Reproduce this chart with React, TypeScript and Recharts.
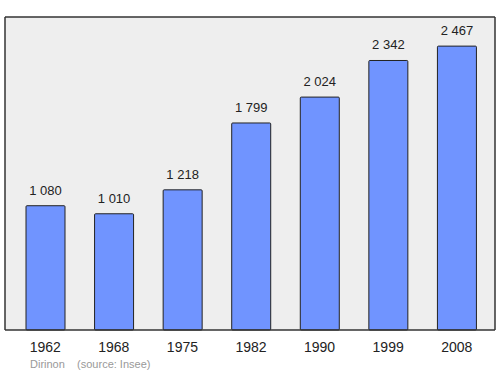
import { Bar, BarChart, CartesianGrid, LabelList, XAxis, YAxis } from "recharts"

const years = ["1962", "1968", "1975", "1982", "1990", "1999", "2008"]
const population = [1080, 1010, 1218, 1799, 2024, 2342, 2467]

const data = years.map((year, i) => ({ year, population: population[i] }))

// French-style thousands separator: "1 080"
const formatPop = (value: number) => String(value).replace(/\B(?=(\d{3})+(?!\d))/g, " ")

const frame = { stroke: "#333", strokeWidth: 1.5 }

export default function App() {
  return (
    <div style={{ position: "absolute", left: 0, top: 0, width: 500, height: 374, background: "#fff", fontFamily: "'Liberation Sans', Arial, sans-serif" }}>
      <BarChart width={500} height={374} data={data} margin={{ top: 16, right: 4, left: 4, bottom: 0 }}>
        <CartesianGrid horizontal={false} vertical={false} fill="#eeeeee" />
        <XAxis
          dataKey="year"
          height={44}
          padding={{ left: 6, right: 4 }}
          tickLine={false}
          axisLine={frame}
          tickMargin={6}
          tick={{ fontSize: 14, fill: "#222" }}
        />
        <XAxis xAxisId="top" dataKey="year" orientation="top" height={1} tick={false} tickLine={false} axisLine={frame} />
        <YAxis domain={[0, 2720]} width={1} tick={false} tickLine={false} axisLine={frame} />
        <YAxis yAxisId="right" orientation="right" width={1} tick={false} tickLine={false} axisLine={frame} />
        <Bar dataKey="population" barSize={39} fill="#7094ff" stroke="#222" strokeWidth={1} radius={1} isAnimationActive={false}>
          <LabelList dataKey="population" position="top" offset={11} formatter={(v: any) => formatPop(Number(v))} style={{ fontSize: 13, fill: "#222" }} />
        </Bar>
      </BarChart>
      <div style={{ position: "absolute", left: 30, top: 358, fontSize: 11, color: "#999", whiteSpace: "pre" }}>
        {"Dirinon    (source: Insee)"}
      </div>
    </div>
  )
}
